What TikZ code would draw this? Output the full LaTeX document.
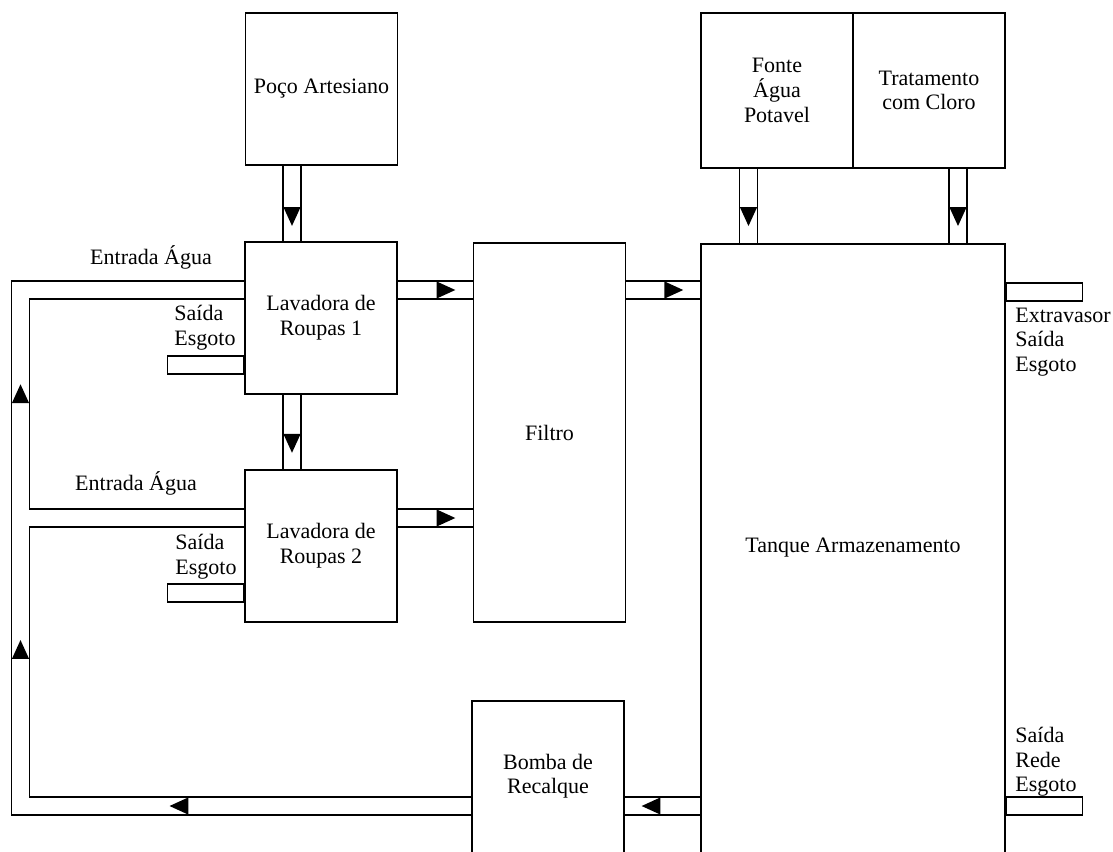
\documentclass[tikz,border=0pt]{standalone}
\usepackage{fontspec}
\setmainfont{Liberation Serif}
\usetikzlibrary{shapes.geometric, positioning, backgrounds}

\begin{document}
\begin{tikzpicture}[
    x=0.5pt, y=-0.5pt,
    font=\fontsize{11}{12.3}\selectfont,
    unit/.style={rectangle, draw=black, line width=0.6pt, inner sep=0pt, align=center, minimum width=76pt, minimum height=76pt},
    outlet/.style={rectangle, draw=black, line width=0.6pt, inner sep=0pt, minimum width=38pt, minimum height=9pt},
    note/.style={inner sep=0pt, align=left},
    pipe/.style={draw=black, line width=0.6pt, double=white, double distance=8.4pt},
    flow/.style={isosceles triangle, isosceles triangle stretches, fill=black, inner sep=0pt, outer sep=0pt, minimum width=8.6pt, minimum height=9.4pt, sloped, allow upside down}
]
    \useasboundingbox (0,0) rectangle (1113,851);

    % Units
    \node[unit] (poco) at (321.5,89) {Poço Artesiano};
    \node[unit] (lav1) at (321,318) {Lavadora de\\Roupas 1};
    \node[unit] (lav2) at (321,546) {Lavadora de\\Roupas 2};
    \node[unit, minimum height=189.5pt] (filtro) at (549.5,432.5) {Filtro};
    \node[unit, minimum height=85pt] (bomba) at (548,786) {};
    \node[align=center] (bombatxt) at (548,776) {Bomba de\\Recalque};
    \node[unit, minimum width=152pt, minimum height=313.5pt] (tanque) at (853,557.5) {};
    \node (tanquetxt) at (853,548) {Tanque Armazenamento};
    \node[unit, minimum height=77.5pt] (fonte) at (777,90.5) {Fonte\\Água\\Potavel};
    \node[unit, minimum height=77.5pt] (cloro) at (929,90.5) {Tratamento\\com Cloro};

    % Outlets
    \node[outlet, anchor=south east] (esg1) at ([yshift=10pt]lav1.south west) {};
    \node[outlet, anchor=south east] (esg2) at ([yshift=10pt]lav2.south west) {};
    \node[outlet, anchor=north west] (extrav) at ([yshift=-19.5pt]tanque.north east) {};

    % Pipe levels
    \coordinate (upper) at (0,290);
    \coordinate (lower) at (0,518);
    \coordinate (lvret) at (0,806);
    \coordinate (drop) at (292,0);
    \coordinate (dropF) at (748.5,0);
    \coordinate (dropC) at (958,0);
    \coordinate (nw) at (20.5,290);
    \coordinate (w) at (20.5,518);
    \coordinate (sw) at (20.5,806);

    \node[outlet, anchor=west] (rede) at (tanque.east |- lvret) {};

    % Labels
    \node[note] (ent1) at (151,257) {Entrada Água};
    \node[note] (ent2) at (136,483) {Entrada Água};
    \node[note, anchor=west] (esgtxt1) at (174,328) {Saída\\Esgoto};
    \node[note, anchor=west] (esgtxt2) at (175,557) {Saída\\Esgoto};
    \node[note, anchor=west] (extravtxt) at (1015,342) {Extravasor\\Saída\\Esgoto};
    \node[note, anchor=west] (redetxt) at (1015,762) {Saída\\Rede\\Esgoto};

    % Pipes
    \begin{scope}[on background layer]
    \draw[pipe] (poco.south -| drop) -- node[flow, pos=0.62] {} (lav1.north -| drop);
    \draw[pipe] (lav1.south -| drop) -- node[flow, pos=0.6] {} (lav2.north -| drop);
    \draw[pipe] (lav1.east |- upper) -- node[flow, pos=0.59] {} (filtro.west |- upper);
    \draw[pipe] (lav2.east |- lower) -- node[flow, pos=0.59] {} (filtro.west |- lower);
    \draw[pipe] (filtro.east |- upper) -- node[flow, pos=0.59] {} (tanque.west |- upper);
    \draw[pipe] (fonte.south -| dropF) -- node[flow, pos=0.59] {} (tanque.north -| dropF);
    \draw[pipe] (cloro.south -| dropC) -- node[flow, pos=0.59] {} (tanque.north -| dropC);
    \draw[pipe] (tanque.west |- lvret) -- node[flow, pos=0.6] {} (bomba.east |- lvret);
    \draw[pipe] (bomba.west |- lvret) -- node[flow, pos=0.64] {} (sw) -- node[flow, pos=0.53] {} (w) -- (lav2.west |- lower);
    \draw[pipe] ([yshift=4.25pt]w) -- node[flow, pos=0.51] {} (nw) -- (lav1.west |- upper);
    \end{scope}
\end{tikzpicture}
\end{document}
